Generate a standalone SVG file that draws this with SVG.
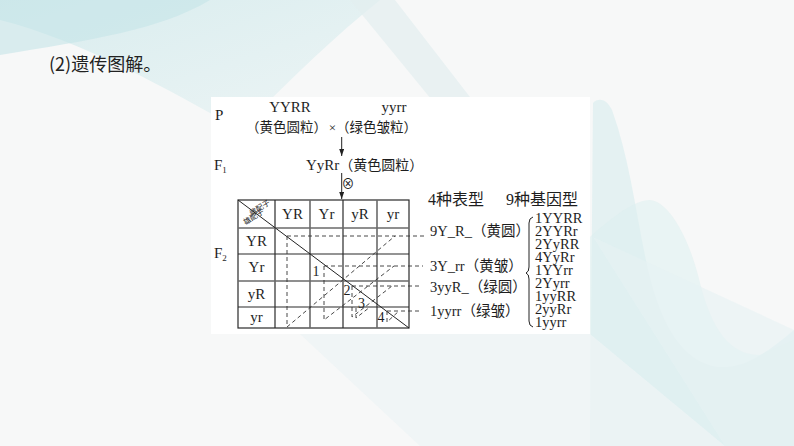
<svg xmlns="http://www.w3.org/2000/svg" width="794" height="446" viewBox="0 0 794 446">
<defs>
<style>
.t{font-family:"Liberation Serif","Noto Sans CJK SC",serif;fill:#1e1e1e}
.c{font-family:"Liberation Serif","Noto Sans CJK SC",serif;fill:#1e1e1e}
.gt{font-family:"Liberation Serif",serif;fill:#1e1e1e;font-size:14.5px}
.g{stroke:#2a2a2a;stroke-width:1.2;fill:none}
.gl{stroke:#6a6a6a;stroke-width:1.6;fill:none}
.d{stroke:#333;stroke-width:0.9;fill:none;stroke-dasharray:4 3}
.s{stroke:#222;stroke-width:1;fill:none}
</style>
<linearGradient id="tl" x1="0" y1="0" x2="1" y2="1">
<stop offset="0" stop-color="#bfe3e6"/>
<stop offset="1" stop-color="#e6f2f3"/>
</linearGradient>
<marker id="ah" markerWidth="8" markerHeight="6" refX="7" refY="2.5" orient="auto" markerUnits="userSpaceOnUse">
<path d="M0,0 L7,2.5 L0,5 Z" fill="#222"/>
</marker>
</defs>
<g id="background">
<rect x="0" y="0" width="794" height="446" fill="#f7f8f8"/>
<path d="M0,0 L380,0 C330,40 280,90 240,130 C170,90 80,40 0,20 Z" fill="url(#tl)" opacity="0.55"/>
<path d="M0,0 L210,0 C160,30 90,40 0,55 Z" fill="#c4e5e8" opacity="0.6"/>
<path d="M350,0 L395,0 L480,110 L440,110 Z" fill="#e3eeef" opacity="0.7"/>
<path d="M593,103 C598,98 606,98 612,110 C630,160 636,215 648,270 C662,330 685,362 717,367 C745,370 770,350 794,330 L794,446 L590,446 Z" fill="#d7ecee" opacity="0.6"/>
<path d="M590,237 C615,215 635,200 650,200 C670,202 690,240 700,283 C712,330 730,355 760,355 L794,340 L794,446 L590,446 Z" fill="#dcefef" opacity="0.5"/>
<path d="M593,237 L794,330 L794,446 L725,446 Z" fill="#e6f2f3" opacity="0.6"/>
<path d="M300,334 L590,334 L725,446 L420,446 Z" fill="#edf4f5" opacity="0.8"/>
</g>
<rect id="panel" x="211" y="97" width="379" height="237" fill="#ffffff"/>
<g id="title">
<text x="49" y="71" font-family="Noto Sans CJK SC, sans-serif" font-size="18" fill="#222">(2)遗传图解。</text>
</g>
<g id="p-row">
<text class="t" x="215" y="120" font-size="15">P</text>
<text class="t" x="290" y="112" font-size="15" text-anchor="middle">YYRR</text>
<text class="c" x="246" y="132" font-size="13.5">（黄色圆粒）</text>
<text class="t" x="332.5" y="132" font-size="13" text-anchor="middle">×</text>
<text class="t" x="394" y="112" font-size="15" text-anchor="middle">yyrr</text>
<text class="c" x="336" y="132" font-size="13.5">（绿色皱粒）</text>
</g>
<g id="f1-row">
<text class="t" x="214" y="170" font-size="15">F<tspan font-size="9" dy="3">1</tspan></text>
<text class="t" x="306" y="170" font-size="15">YyRr<tspan font-size="14">（黄色圆粒）</tspan></text>
<text class="t" x="348" y="188" font-size="13" text-anchor="middle">⊗</text>
</g>
<g id="f2-label">
<text class="t" x="214" y="258" font-size="15">F<tspan font-size="9" dy="3">2</tspan></text>
</g>
<g id="grid">
<rect class="g" x="238" y="200" width="171" height="128"/>
<line class="g" x1="275" y1="200" x2="275" y2="328"/>
<line class="gl" x1="310" y1="200" x2="310" y2="328"/>
<line class="g" x1="343" y1="200" x2="343" y2="328"/>
<line class="gl" x1="377" y1="200" x2="377" y2="328"/>
<line class="gl" x1="238" y1="228" x2="409" y2="228"/>
<line class="g" x1="238" y1="254" x2="409" y2="254"/>
<line class="gl" x1="238" y1="281" x2="409" y2="281"/>
<line class="g" x1="238" y1="307" x2="409" y2="307"/>
<line class="s" x1="238" y1="200" x2="409" y2="328"/>
<text class="c" x="0" y="0" font-size="7.5" fill="#555" transform="translate(261,210) rotate(-32)" text-anchor="middle">雌配子</text>
<text class="c" x="0" y="0" font-size="7.5" fill="#555" transform="translate(255,219) rotate(-32)" text-anchor="middle">雄配子</text>
<text class="t" x="292.5" y="219" font-size="15" text-anchor="middle">YR</text>
<text class="t" x="326.5" y="219" font-size="15" text-anchor="middle">Yr</text>
<text class="t" x="360" y="219" font-size="15" text-anchor="middle">yR</text>
<text class="t" x="393" y="219" font-size="15" text-anchor="middle">yr</text>
<text class="t" x="256.5" y="246" font-size="15" text-anchor="middle">YR</text>
<text class="t" x="256.5" y="272" font-size="15" text-anchor="middle">Yr</text>
<text class="t" x="256.5" y="299" font-size="15" text-anchor="middle">yR</text>
<text class="t" x="256.5" y="322" font-size="15" text-anchor="middle">yr</text>
<text class="t" x="316" y="276" font-size="14" text-anchor="middle">1</text>
<text class="t" x="347" y="295" font-size="14" text-anchor="middle">2</text>
<text class="t" x="361.5" y="308" font-size="14" text-anchor="middle">3</text>
<text class="t" x="381" y="322" font-size="14" text-anchor="middle">4</text>
</g>
<g id="connectors">
<line class="s" x1="341.7" y1="137" x2="341.7" y2="156" marker-end="url(#ah)"/>
<line class="s" x1="341.7" y1="173" x2="341.7" y2="199" marker-end="url(#ah)"/>
<path class="d" d="M287,236 H425 M287,236 V327 L395,236"/>
<path class="d" d="M324,266 H423 M324,266 V320 L394,266"/>
<path class="d" d="M352,286 H421 M352,286 V317 L392,286"/>
<path class="d" d="M356,308 V318 L370,307"/>
<path class="d" d="M387,311 H422 M387,311 V322 L399,311"/>
</g>
<g id="phenotypes">
<text class="t" x="428" y="205" font-size="16">4种表型</text>
<text class="t" x="506" y="205" font-size="16">9种基因型</text>
<text class="t" x="430" y="236" font-size="14.5">9Y_R_<tspan>（黄圆）</tspan></text>
<text class="t" x="430" y="271" font-size="14.5">3Y_rr<tspan>（黄皱）</tspan></text>
<text class="t" x="430" y="292" font-size="14.5">3yyR_<tspan>（绿圆）</tspan></text>
<text class="t" x="430" y="316" font-size="14.5">1yyrr<tspan>（绿皱）</tspan></text>
</g>
<g id="brace">
<path class="s" d="M533,217 Q529,218 529,223 L529,267 Q529,272 526,273 Q529,274 529,279 L529,321 Q529,326 533,327"/>
</g>
<g id="genotypes">
<text class="gt" x="535" y="223"><tspan x="535" y="223">1YYRR</tspan><tspan x="535" y="236">2YYRr</tspan><tspan x="535" y="249">2YyRR</tspan><tspan x="535" y="262">4YyRr</tspan><tspan x="535" y="275">1YYrr</tspan><tspan x="535" y="288">2Yyrr</tspan><tspan x="535" y="301">1yyRR</tspan><tspan x="535" y="314">2yyRr</tspan><tspan x="535" y="327">1yyrr</tspan></text>
</g>
</svg>
